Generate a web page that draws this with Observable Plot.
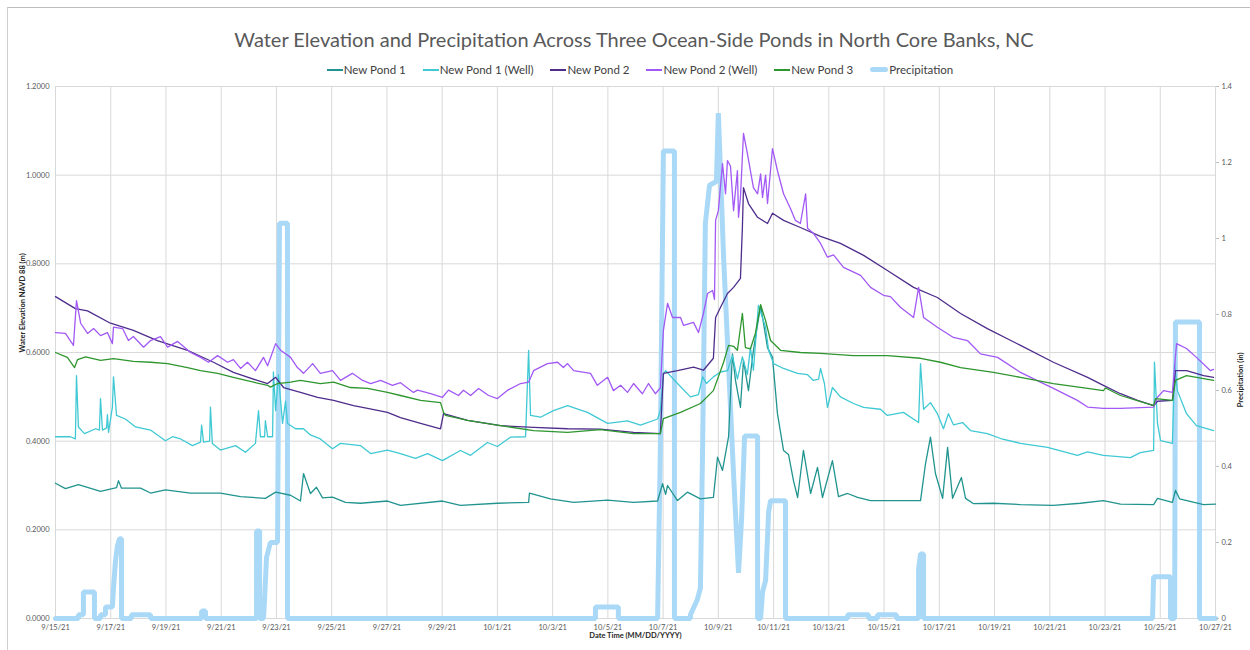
<!DOCTYPE html>
<html>
<head>
<meta charset="utf-8">
<script src="https://cdn.jsdelivr.net/npm/d3@7"></script>
<script src="https://cdn.jsdelivr.net/npm/@observablehq/plot@0.6"></script>
<style>
  body { margin: 0; background: #fff; }
  #wrap { position: relative; width: 1250px; height: 650px; overflow: hidden; font-family: Lato, "Open Sans", sans-serif; }
  #frame { position: absolute; left: 7px; top: 7px; width: 1250px; height: 660px; border-left: 1px solid #cfcfcf; border-top: 1px solid #bdbdbd; box-sizing: border-box; }
  #title { position: absolute; top: 27px; left: 0; width: 1268px; text-align: center; font-size: 20px; color: #595959; }
  #legend { position: absolute; top: 63px; left: 0; width: 1280px; display: flex; justify-content: center; gap: 17px; font-size: 11.5px; color: #404040; }
  .item { display: flex; align-items: center; }
  .sw { width: 16px; height: 2px; margin-right: 1px; }
  #chart { position: absolute; left: 0; top: 0; }
</style>
</head>
<body>
<div id="wrap">
  <div id="chart"></div>
  <div id="frame"></div>
  <div id="title">Water Elevation and Precipitation Across Three Ocean-Side Ponds in North Core Banks, NC</div>
  <div id="legend"></div>
</div>
<script>
// ---- data: [days since 9/15/2021 00:00, value] ----
const seriesNames = ["New Pond 1", "New Pond 1 (Well)", "New Pond 2", "New Pond 2 (Well)", "New Pond 3", "Precipitation"];
const seriesColors = ["#21948f", "#40c9d4", "#4e2d8c", "#a259f5", "#2e962e", "#a9d9f7"];

const pond1 = [[0,0.305],[0.36,0.293],[0.83,0.302],[1.63,0.287],[2.21,0.295],[2.28,0.311],[2.39,0.294],[3.08,0.294],[3.44,0.283],[3.98,0.29],[4.89,0.283],[5.97,0.283],[6.70,0.275],[7.60,0.271],[7.97,0.285],[8.51,0.278],[8.87,0.265],[8.98,0.327],[9.23,0.282],[9.45,0.296],[9.67,0.272],[10.03,0.274],[10.50,0.262],[11.04,0.26],[12.02,0.265],[12.49,0.255],[14.01,0.265],[14.66,0.255],[16.00,0.26],[17.13,0.262],[17.16,0.283],[17.92,0.27],[18.76,0.262],[19.99,0.267],[20.93,0.262],[21.80,0.265],[21.98,0.304],[22.09,0.28],[22.16,0.30],[22.52,0.266],[22.88,0.285],[23.35,0.27],[23.82,0.273],[23.97,0.364],[24.15,0.334],[24.37,0.41],[24.51,0.597],[24.62,0.537],[24.80,0.476],[24.91,0.582],[25.09,0.514],[25.27,0.605],[25.53,0.706],[25.78,0.611],[25.96,0.589],[26.14,0.462],[26.36,0.379],[26.54,0.37],[26.72,0.311],[26.87,0.273],[27.08,0.379],[27.34,0.282],[27.59,0.341],[27.77,0.273],[28.13,0.356],[28.35,0.275],[28.68,0.282],[29.04,0.273],[29.51,0.266],[31.32,0.266],[31.50,0.349],[31.68,0.409],[31.86,0.327],[32.12,0.271],[32.30,0.386],[32.48,0.271],[32.80,0.318],[32.95,0.271],[33.24,0.259],[33.96,0.26],[34.94,0.257],[36.13,0.255],[37.11,0.26],[37.94,0.266],[38.56,0.258],[39.76,0.257],[39.90,0.271],[40.44,0.262],[40.55,0.289],[40.70,0.27],[41.57,0.257],[42,0.258]];

const pond1Well = [[0,0.41],[0.54,0.41],[0.72,0.405],[0.76,0.548],[0.83,0.432],[1.05,0.417],[1.45,0.428],[1.59,0.425],[1.63,0.496],[1.70,0.425],[1.85,0.43],[1.88,0.46],[1.92,0.42],[2.06,0.477],[2.10,0.545],[2.21,0.458],[2.53,0.45],[2.90,0.432],[3.44,0.425],[3.98,0.401],[4.24,0.41],[4.53,0.405],[4.96,0.39],[5.25,0.398],[5.29,0.436],[5.36,0.398],[5.58,0.40],[5.61,0.477],[5.68,0.395],[5.97,0.38],[6.52,0.39],[6.88,0.375],[7.24,0.395],[7.35,0.469],[7.42,0.41],[7.57,0.41],[7.60,0.446],[7.68,0.41],[7.86,0.41],[7.89,0.556],[7.97,0.469],[8.07,0.55],[8.22,0.44],[8.33,0.49],[8.40,0.44],[8.69,0.428],[8.98,0.428],[9.23,0.414],[9.59,0.405],[10.03,0.383],[10.32,0.395],[11.04,0.39],[11.41,0.372],[12.02,0.38],[12.49,0.372],[13.03,0.361],[13.47,0.372],[14.01,0.356],[14.66,0.379],[15.03,0.368],[15.64,0.397],[16.00,0.388],[16.47,0.409],[17.02,0.41],[17.13,0.605],[17.20,0.458],[17.56,0.454],[18.03,0.469],[18.54,0.48],[19.26,0.465],[19.99,0.44],[20.71,0.446],[21.18,0.436],[21.80,0.45],[21.90,0.47],[22.01,0.55],[22.09,0.559],[22.52,0.53],[22.99,0.5],[23.28,0.505],[23.43,0.545],[23.57,0.53],[23.82,0.545],[24.08,0.556],[24.33,0.559],[24.51,0.593],[24.69,0.54],[24.87,0.59],[25.05,0.55],[25.16,0.611],[25.27,0.56],[25.45,0.706],[25.71,0.657],[25.82,0.605],[26.00,0.575],[26.36,0.564],[26.87,0.553],[27.23,0.55],[27.44,0.537],[27.63,0.54],[27.70,0.564],[27.84,0.53],[27.95,0.476],[28.13,0.521],[28.42,0.5],[28.89,0.485],[29.26,0.476],[29.87,0.472],[30.12,0.458],[30.70,0.465],[31.25,0.442],[31.32,0.575],[31.43,0.472],[31.68,0.487],[31.93,0.462],[32.15,0.428],[32.33,0.462],[32.51,0.437],[32.84,0.442],[33.13,0.424],[33.74,0.417],[34.22,0.406],[34.94,0.395],[35.92,0.386],[37.00,0.368],[37.37,0.376],[37.94,0.368],[38.92,0.363],[39.28,0.374],[39.76,0.379],[39.79,0.578],[39.90,0.44],[40.01,0.401],[40.44,0.395],[40.52,0.575],[40.62,0.514],[40.95,0.462],[41.31,0.435],[41.93,0.424]];

const pond2 = [[0,0.726],[0.72,0.699],[1.16,0.694],[1.99,0.666],[2.82,0.65],[3.69,0.627],[4.78,0.605],[5.72,0.578],[6.44,0.555],[7.31,0.537],[7.68,0.53],[7.97,0.544],[8.26,0.521],[8.87,0.51],[9.49,0.499],[10.07,0.492],[10.79,0.48],[11.30,0.474],[12.02,0.465],[12.49,0.453],[13.22,0.44],[13.94,0.428],[14.05,0.462],[14.92,0.447],[16.11,0.435],[17.31,0.431],[18.54,0.428],[19.73,0.427],[20.93,0.42],[21.90,0.417],[22.01,0.553],[22.52,0.559],[23.10,0.567],[23.46,0.56],[23.82,0.587],[23.90,0.679],[24.08,0.702],[24.33,0.733],[24.55,0.747],[24.80,0.767],[24.87,0.882],[24.91,0.972],[25.09,0.936],[25.42,0.905],[25.78,0.891],[25.96,0.914],[26.36,0.898],[26.97,0.882],[27.70,0.862],[28.42,0.846],[29.26,0.819],[30.12,0.785],[31.07,0.747],[31.93,0.724],[32.77,0.688],[33.74,0.654],[34.94,0.616],[36.13,0.578],[37.37,0.544],[37.94,0.526],[38.56,0.507],[39.18,0.492],[39.76,0.48],[39.90,0.49],[40.44,0.492],[40.55,0.559],[40.95,0.559],[41.57,0.548],[41.93,0.544]];

const pond2Well = [[0,0.645],[0.36,0.643],[0.65,0.616],[0.76,0.717],[0.91,0.666],[1.16,0.643],[1.38,0.654],[1.63,0.638],[1.88,0.645],[2.06,0.62],[2.10,0.657],[2.43,0.654],[2.64,0.627],[2.82,0.636],[3.19,0.612],[3.44,0.627],[3.80,0.636],[4.06,0.612],[4.42,0.625],[4.89,0.6],[5.25,0.589],[5.54,0.578],[5.87,0.593],[6.23,0.578],[6.44,0.584],[6.70,0.564],[6.95,0.578],[7.24,0.559],[7.53,0.589],[7.68,0.57],[7.97,0.62],[8.15,0.605],[8.51,0.589],[8.76,0.566],[8.98,0.553],[9.31,0.575],[9.59,0.553],[10.03,0.559],[10.32,0.537],[10.75,0.553],[11.12,0.537],[11.41,0.53],[11.77,0.537],[12.20,0.526],[12.49,0.532],[12.96,0.51],[13.11,0.515],[13.58,0.507],[14.01,0.499],[14.23,0.515],[14.59,0.503],[14.77,0.515],[15.03,0.503],[15.32,0.519],[15.68,0.503],[16.00,0.496],[16.37,0.515],[16.84,0.53],[17.13,0.533],[17.31,0.559],[17.81,0.575],[18.18,0.578],[18.39,0.566],[18.54,0.575],[18.76,0.559],[19.37,0.553],[19.62,0.526],[19.99,0.544],[20.20,0.514],[20.46,0.526],[20.71,0.51],[20.93,0.53],[21.25,0.507],[21.47,0.53],[21.72,0.507],[21.90,0.52],[22.01,0.65],[22.16,0.711],[22.34,0.679],[22.63,0.679],[22.74,0.661],[23.10,0.668],[23.28,0.645],[23.46,0.688],[23.61,0.733],[23.79,0.74],[23.86,0.72],[23.90,0.898],[24.00,0.92],[24.15,1.026],[24.26,0.958],[24.33,1.033],[24.44,1.02],[24.55,0.92],[24.69,1.01],[24.73,0.905],[24.80,0.95],[24.91,1.094],[25.05,1.049],[25.16,1.01],[25.27,0.972],[25.42,0.958],[25.53,1.003],[25.60,0.95],[25.71,1.0],[25.78,0.936],[25.96,1.06],[26.14,1.01],[26.36,0.958],[26.61,0.925],[26.79,0.898],[26.97,0.891],[27.16,0.958],[27.23,0.88],[27.44,0.869],[27.70,0.846],[27.95,0.815],[28.17,0.82],[28.53,0.792],[29.15,0.774],[29.51,0.747],[29.98,0.729],[30.23,0.726],[30.59,0.702],[31.07,0.679],[31.25,0.747],[31.43,0.679],[31.93,0.657],[32.51,0.634],[33.02,0.627],[33.49,0.597],[34.11,0.589],[34.94,0.555],[35.66,0.533],[36.13,0.519],[37.00,0.492],[37.37,0.477],[37.94,0.474],[38.56,0.474],[39.76,0.477],[39.90,0.499],[40.12,0.514],[40.44,0.51],[40.59,0.62],[40.95,0.609],[41.31,0.589],[41.82,0.559],[41.93,0.562]];

const pond3 = [[0,0.6],[0.43,0.589],[0.69,0.566],[0.80,0.584],[1.09,0.59],[1.63,0.582],[2.10,0.586],[2.82,0.58],[3.44,0.578],[4.06,0.575],[4.78,0.566],[5.25,0.559],[5.87,0.553],[6.44,0.544],[7.17,0.533],[7.68,0.526],[7.78,0.522],[8.04,0.53],[8.51,0.533],[8.87,0.537],[9.59,0.53],[10.07,0.533],[10.68,0.521],[11.30,0.519],[12.02,0.51],[12.49,0.503],[13.22,0.492],[13.94,0.487],[14.05,0.465],[14.12,0.458],[14.92,0.447],[16.11,0.435],[17.31,0.424],[18.54,0.42],[19.73,0.426],[20.93,0.417],[21.90,0.417],[22.01,0.451],[22.63,0.465],[23.35,0.485],[23.82,0.514],[24.19,0.578],[24.37,0.616],[24.55,0.614],[24.69,0.605],[24.87,0.688],[24.98,0.611],[25.16,0.608],[25.34,0.643],[25.53,0.708],[25.71,0.672],[25.89,0.627],[26.25,0.605],[26.97,0.6],[27.70,0.598],[28.89,0.593],[30.12,0.593],[31.32,0.587],[32.04,0.578],[32.77,0.566],[33.96,0.555],[34.94,0.544],[36.13,0.53],[37.37,0.519],[37.94,0.514],[38.02,0.52],[38.56,0.503],[39.76,0.48],[39.83,0.496],[40.44,0.492],[40.55,0.537],[40.95,0.548],[41.57,0.541],[41.93,0.537]];

// precipitation (inches)
const precip = [[0,0],[0.83,0],[0.83,0.01],[1.01,0.01],[1.01,0.07],[1.41,0.07],[1.41,0],[1.63,0],[1.63,0.01],[1.81,0.01],[1.81,0.03],[2.06,0.03],[2.10,0.08],[2.17,0.15],[2.24,0.19],[2.32,0.21],[2.39,0.21],[2.39,0],[2.75,0],[2.75,0.01],[3.44,0.01],[3.44,0],[5.29,0],[5.29,0.02],[5.43,0.02],[5.43,0],[7.28,0],[7.28,0.23],[7.39,0.23],[7.39,0],[7.53,0],[7.57,0.05],[7.64,0.16],[7.78,0.20],[8.04,0.20],[8.11,1.04],[8.40,1.04],[8.40,0],[19.55,0],[19.55,0.03],[20.38,0.03],[20.38,0],[21.80,0],[21.90,0.45],[22.01,1.23],[22.41,1.23],[22.41,0],[22.99,0],[22.99,0.01],[23.24,0.05],[23.35,0.08],[23.43,0.45],[23.53,1.04],[23.68,1.14],[23.93,1.15],[24.00,1.33],[24.19,0.95],[24.55,0.38],[24.73,0.12],[24.84,0.26],[24.95,0.48],[25.42,0.48],[25.42,0],[25.53,0],[25.60,0.07],[25.71,0.10],[25.82,0.28],[25.89,0.31],[26.43,0.31],[26.43,0],[28.68,0],[28.68,0.01],[29.44,0.01],[29.44,0],[29.76,0],[29.76,0.01],[30.45,0.01],[30.45,0],[31.25,0],[31.25,0.13],[31.32,0.17],[31.43,0.17],[31.43,0],[39.72,0],[39.76,0.11],[40.37,0.11],[40.37,0],[40.52,0],[40.55,0.78],[41.42,0.78],[41.42,0],[42,0]];

// ticks
const xTickDays = [0,2,4,6,8,10,12,14,16,18,20,22,24,26,28,30,32,34,36,38,40,42];
const leftTicks = [0, 0.2, 0.4, 0.6, 0.8, 1.0, 1.2];
const rightTicks = [0, 0.2, 0.4, 0.6, 0.8, 1.0, 1.2, 1.4];
const leftMax = 1.2, rightMax = 1.4;

// ---- build ----
const t0 = Date.UTC(2021, 8, 15);
const toDate = d => new Date(t0 + d * 864e5);
const rows = (arr, name) => arr.map(([d, v]) => ({t: toDate(d), v, name}));
const waterSets = [pond1, pond1Well, pond2, pond2Well, pond3];
const precipRows = precip.map(([d, v]) => ({t: toDate(d), v: v * leftMax / rightMax}));
const fmtDate = d => `${d.getUTCMonth() + 1}/${d.getUTCDate()}/21`;

const marks = [
  Plot.gridX(xTickDays.map(toDate), {stroke: "#d9d9d9", strokeOpacity: 1, strokeWidth: 1}),
  Plot.gridY(leftTicks, {stroke: "#d9d9d9", strokeOpacity: 1, strokeWidth: 1}),
  Plot.lineY(precipRows, {x: "t", y: "v", stroke: seriesColors[5], strokeWidth: 5, strokeLinejoin: "miter"}),
];
waterSets.forEach((s, i) => {
  marks.push(Plot.lineY(rows(s, seriesNames[i]), {x: "t", y: "v", stroke: seriesColors[i], strokeWidth: 1.3}));
});
marks.push(
  Plot.axisX(xTickDays.map(toDate), {tickSize: 0, tickPadding: 6, tickFormat: fmtDate, label: null, fontSize: 7.5, fill: "#595959"}),
  Plot.axisY(leftTicks, {anchor: "left", tickSize: 0, tickPadding: 6, tickFormat: d => d.toFixed(4), label: null, fontSize: 7.5, fill: "#595959"}),
  Plot.axisY(rightTicks.map(v => v * leftMax / rightMax), {anchor: "right", tickSize: 3, tickPadding: 3, stroke: "#bfbfbf",
    tickFormat: (d, i) => String(rightTicks[i]), label: null, fontSize: 7.5, fill: "#595959"}),
  Plot.text(["Water Elevation NAVD 88 (m)"], {frameAnchor: "left", rotate: -90, dx: -33, fontSize: 7.5, fontWeight: "bold", fill: "#262626"}),
  Plot.text(["Precipitation (in)"], {frameAnchor: "right", rotate: -90, dx: 25, fontSize: 7.5, fontWeight: "bold", fill: "#262626"}),
  Plot.text(["Date Time (MM/DD/YYYY)"], {frameAnchor: "bottom", dy: 19, fontSize: 7.5, fontWeight: "bold", fill: "#262626"})
);

const chart = Plot.plot({
  width: 1250, height: 650,
  marginLeft: 55, marginRight: 35, marginTop: 86, marginBottom: 32,
  x: {type: "utc", domain: [toDate(0), toDate(42)]},
  y: {domain: [0, leftMax]},
  style: {fontFamily: "Lato, 'Open Sans', sans-serif", background: "transparent", overflow: "visible"},
  marks
});
document.getElementById("chart").appendChild(chart);

// legend
const legend = document.getElementById("legend");
seriesNames.forEach((n, i) => {
  const item = document.createElement("div");
  item.className = "item";
  const sw = document.createElement("span");
  sw.className = "sw";
  sw.style.background = seriesColors[i];
  if (i === 5) { sw.style.height = "5px"; sw.style.borderRadius = "3px"; sw.style.width = "18px"; }
  const tx = document.createElement("span");
  tx.textContent = n;
  item.appendChild(sw); item.appendChild(tx);
  legend.appendChild(item);
});
</script>
</body>
</html>
